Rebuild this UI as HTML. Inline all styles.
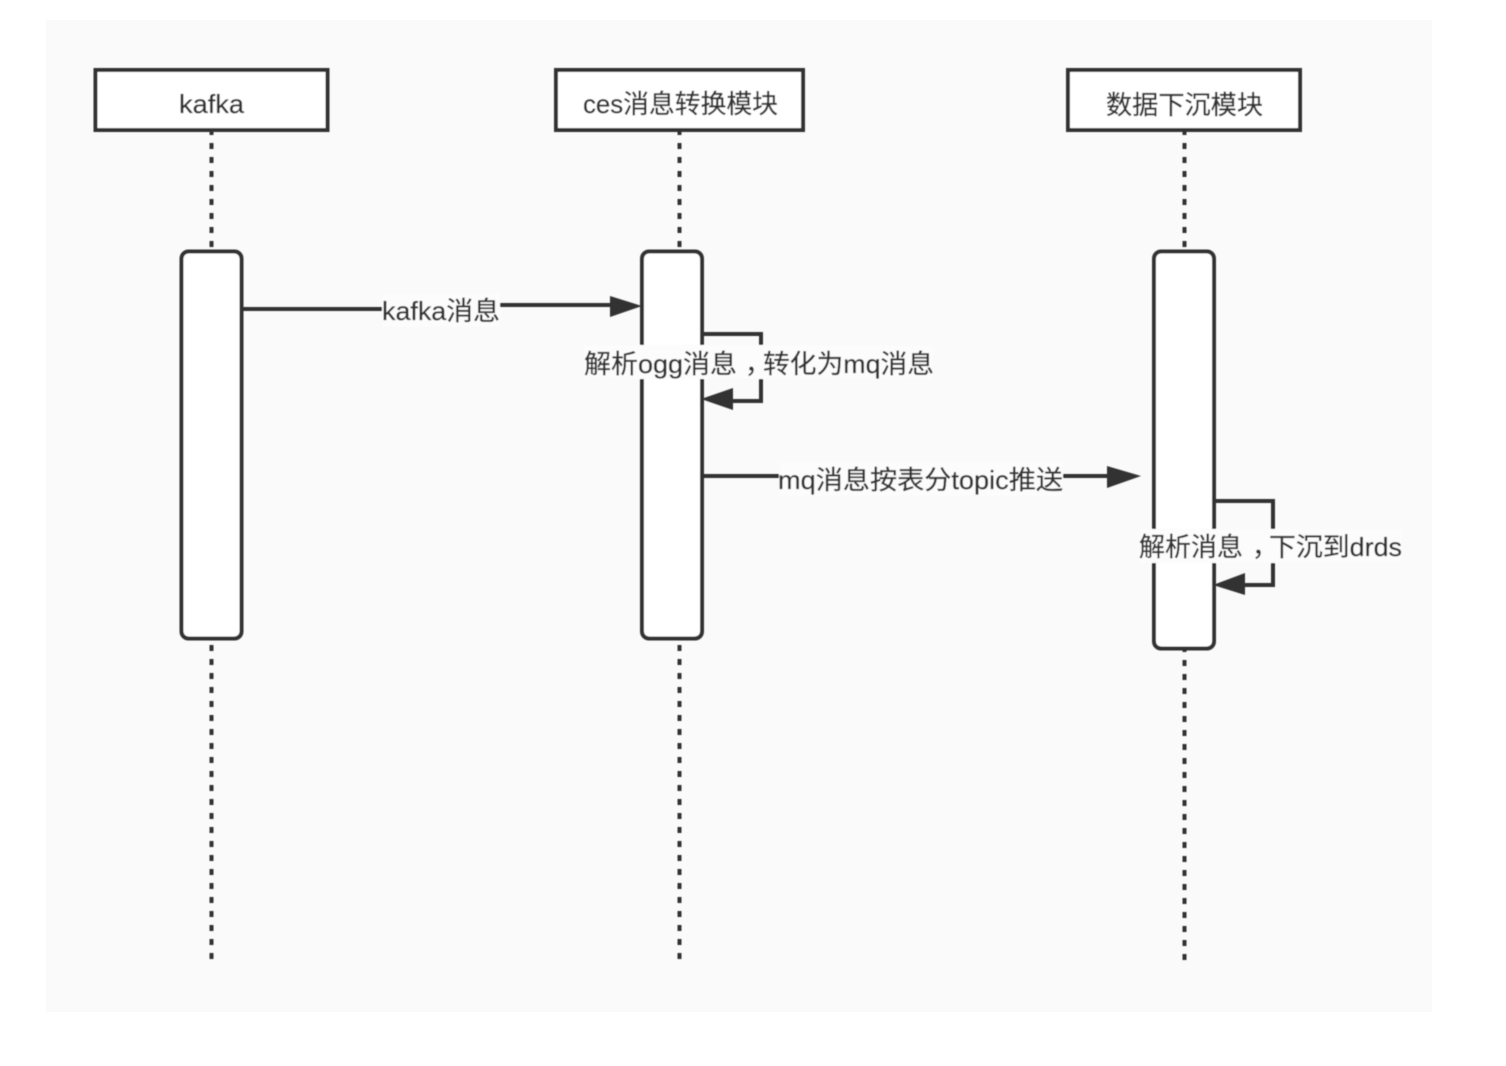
<!DOCTYPE html>
<html lang="zh">
<head>
<meta charset="utf-8">
<title>Sequence diagram</title>
<style>
html,body{margin:0;padding:0;background:#fff;width:1506px;height:1066px;overflow:hidden}
svg{display:block}
text{font-family:"Liberation Sans","Noto Sans CJK SC",sans-serif;font-size:26px;fill:#333;stroke:#333;stroke-width:.3}
</style>
</head>
<body>
<svg width="1506" height="1066" viewBox="0 0 1506 1066" xmlns="http://www.w3.org/2000/svg">
<defs><filter id="b" x="-5%" y="-5%" width="110%" height="110%"><feGaussianBlur stdDeviation="0.55"/></filter></defs>
<rect x="46" y="20" width="1386" height="992" fill="#fafafa"/>
<g filter="url(#b)">
<g stroke="#333" stroke-width="4" stroke-dasharray="6 8" fill="none">
<path d="M211.500 129V248M211.500 645V960"/>
<path d="M679.500 129V248M679.500 645V960"/>
<path d="M1184.500 129V248M1184.500 646V960"/>
</g>
<g fill="#fff" stroke="#333" stroke-width="4">
<rect x="95.500" y="70" width="232" height="60"/>
<rect x="556" y="70" width="247" height="60"/>
<rect x="1068" y="70" width="232" height="60"/>
<rect x="181.500" y="251.500" width="60" height="387" rx="7"/>
<rect x="642" y="251.500" width="60" height="387" rx="7"/>
<rect x="1154" y="251.500" width="60" height="397" rx="7"/>
</g>
<g fill="none" stroke="#333" stroke-width="4">
<path d="M242 309H385M498 305H615"/>
<path d="M703 334H761V401H728"/>
<path d="M703 476H782M1060 476H1110"/>
<path d="M1215 501H1273V585H1240"/>
</g>
<g fill="#333">
<path d="M610 296L642 306L610 317Z"/>
<path d="M733 388L701 399L733 410Z"/>
<path d="M1107 466L1141 476L1107 488Z"/>
<path d="M1245 573L1213 585L1245 595Z"/>
</g>
<g fill="#fcfcfc">
<rect x="382" y="293" width="118" height="34"/>
<rect x="584" y="345" width="349" height="34"/>
<rect x="779" y="462" width="284" height="34"/>
<rect x="1140" y="529" width="262" height="34"/>
</g>
<text x="179" y="113" textLength="65" lengthAdjust="spacingAndGlyphs">kafka</text>
<text x="583" y="113" textLength="195" lengthAdjust="spacingAndGlyphs">ces消息转换模块</text>
<text x="1106" y="114" textLength="157" lengthAdjust="spacingAndGlyphs">数据下沉模块</text>
<text x="382" y="320" textLength="118" lengthAdjust="spacingAndGlyphs">kafka消息</text>
<text x="584" y="373" textLength="153" lengthAdjust="spacingAndGlyphs">解析ogg消息</text>
<text x="745" y="373">，</text>
<text x="763" y="373" textLength="171" lengthAdjust="spacingAndGlyphs">转化为mq消息</text>
<text x="778" y="489" textLength="285" lengthAdjust="spacingAndGlyphs">mq消息按表分topic推送</text>
<text x="1139" y="556" textLength="104" lengthAdjust="spacingAndGlyphs">解析消息</text>
<text x="1252" y="556">，</text>
<text x="1269" y="556" textLength="133" lengthAdjust="spacingAndGlyphs">下沉到drds</text>
</g>
</svg>
</body>
</html>
